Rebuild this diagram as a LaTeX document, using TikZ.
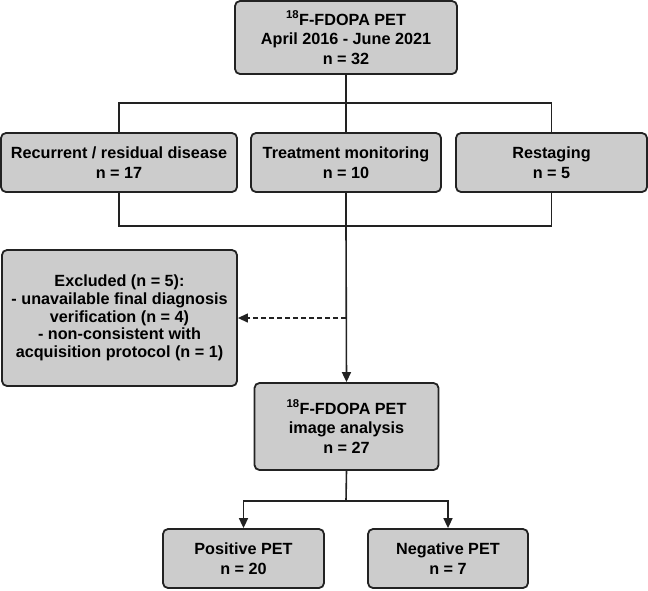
\documentclass[tikz,border=0pt]{standalone}
\usepackage{fontspec}
\setmainfont{Liberation Sans}
\usetikzlibrary{arrows.meta,calc,positioning}
\definecolor{boxgray}{RGB}{204,204,204}
\definecolor{linegray}{RGB}{34,34,34}

\begin{document}
\begin{tikzpicture}[x=1pt,y=-1pt,>={Triangle[length=10pt,width=9pt]},
  font=\fontsize{16.2}{19.5}\selectfont\bfseries,
  box/.style={draw=linegray,line width=1.8pt,fill=boxgray,rounded corners=5pt,
    align=center,inner sep=2pt},
  link/.style={draw=linegray,line width=1.6pt}]
  \useasboundingbox (0,0) rectangle (648,590);

  % cohort
  \node[box,minimum width=222pt,minimum height=73pt] (pet) at (346,37.5)
    {\textsuperscript{18}F-FDOPA PET\\April 2016 - June 2021\\n = 32};

  % indications
  \node[box,minimum width=236pt,minimum height=59pt] (recur) at (119,162.5)
    {Recurrent / residual disease\\n = 17};
  \node[box,minimum width=190pt,minimum height=59pt] (monit) at (346,162.5)
    {Treatment monitoring\\n = 10};
  \node[box,minimum width=191pt,minimum height=59pt] (restag) at (551.5,162.5)
    {Restaging\\n = 5};

  \node[box,minimum width=235pt,minimum height=136pt,
    font=\fontsize{16.2}{17.7}\selectfont\bfseries] (excl) at (119.5,318)
    {Excluded (n = 5):\\- unavailable final diagnosis\\verification (n = 4)\\
     - non-consistent with\\acquisition protocol (n = 1)};

  \node[box,minimum width=184pt,minimum height=87pt] (anal) at (346.5,426.5)
    {\textsuperscript{18}F-FDOPA PET\\image analysis\\n = 27};

  % outcome
  \node[box,minimum width=161pt,minimum height=59pt] (pos) at (243.5,558.5)
    {Positive PET\\n = 20};
  \node[box,minimum width=160pt,minimum height=59pt] (neg) at (448,558.5)
    {Negative PET\\n = 7};

  \coordinate (split) at (346,103);
  \coordinate (merge) at (346,226);
  \coordinate (fork) at (346,501);
  \coordinate (drop) at (merge |- excl.east);

  \draw[link] (pet) -- (split);
  \draw[link] (recur.north) |- (split) -| (restag.north);
  \draw[link] (monit.north) -- (split);
  \draw[link] (recur.south) |- (merge) -| (restag.south);
  \draw[link] (monit.south) -- (merge);
  \draw[link,->] (merge) -- (anal.north);
  \draw[link,->,line width=1.3pt,dash pattern=on 5pt off 3pt] (drop) -- (excl.east);

  \draw[link] (anal.south) -- (fork);
  \draw[link,->] (fork) -| (pos.north);
  \draw[link,->] (fork) -| (neg.north);
\end{tikzpicture}
\end{document}
